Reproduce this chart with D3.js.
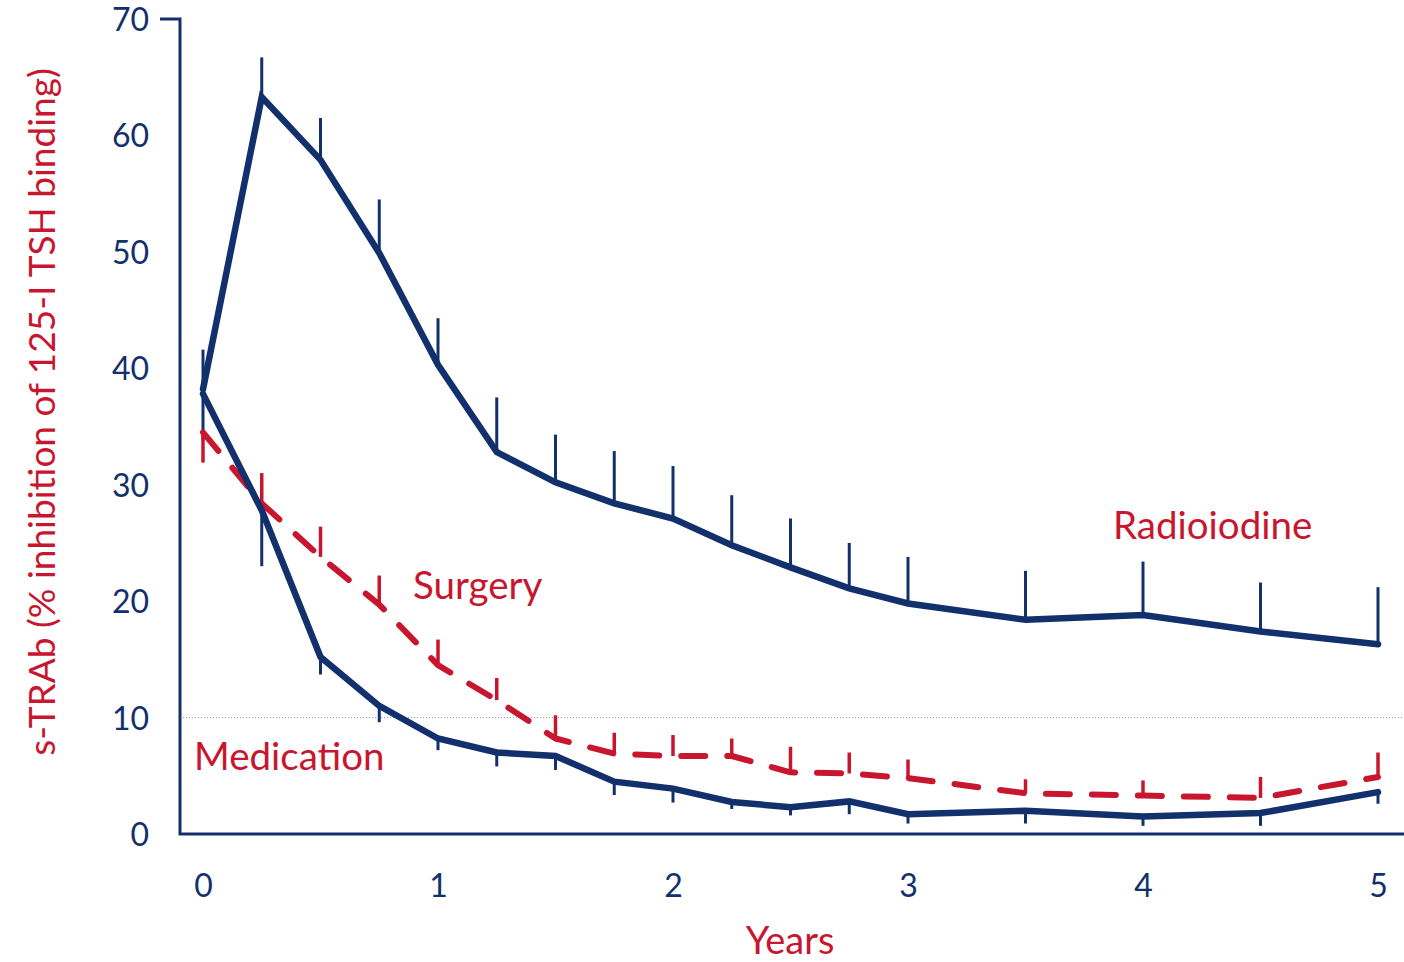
<!DOCTYPE html>
<html><head><meta charset="utf-8">
<script src="https://cdn.jsdelivr.net/npm/d3@7"></script>
<style>body{margin:0;background:#fff}svg{display:block}text{font-family:Lato,"Open Sans",sans-serif}</style>
</head><body><svg id="c" width="1404" height="962"></svg>
<script>
const years = [0,0.25,0.5,0.75,1,1.25,1.5,1.75,2,2.25,2.5,2.75,3,3.5,4,4.5,5];
const radioiodine    = [38.2,63.3,57.9,49.9,40.3,32.8,30.2,28.4,27.1,24.8,22.9,21.1,19.8,18.4,18.8,17.4,16.3];
const radioiodineErr = [41.6,66.7,61.5,54.5,44.3,37.5,34.3,32.9,31.6,29.1,27.1,25.0,23.8,22.6,23.4,21.6,21.2];
const medication     = [37.8,27.8,15.2,11.0,8.2,7.0,6.7,4.5,3.9,2.75,2.3,2.8,1.7,2.0,1.5,1.8,3.6];
const medicationErr  = [33.8,23.0,13.7,9.6,7.2,5.8,5.5,3.35,2.7,2.15,1.6,1.7,0.9,0.9,0.7,0.7,2.6];
const surgery        = [34.5,28.4,23.8,19.7,14.5,11.5,8.2,6.9,6.7,6.7,5.3,5.2,4.8,3.5,3.3,3.1,4.9];
const surgeryErr     = [31.9,31.0,26.4,22.2,16.7,13.4,10.2,8.7,8.5,8.2,7.5,7.0,6.4,4.7,4.6,4.9,7.0];
const yTicks = [0,10,20,30,40,50,60,70];
const xTicks = [0,1,2,3,4,5];
const refLine = 10;
const yTitle = "s-TRAb (% inhibition of 125-I TSH binding)";
const xTitle = "Years";
const seriesLabels = [
  {text:"Radioiodine", x:1113, y:539},
  {text:"Surgery", x:413, y:599},
  {text:"Medication", x:194, y:770}
];

const NAVY = "#12306b", RED = "#c8162f";
const svg = d3.select("#c");
const x = d3.scaleLinear().domain([0,5]).range([203,1378]);
const y = d3.scaleLinear().domain([0,70]).range([834,19]);
const axisX = 180;

// reference dotted line
svg.append("line").attr("x1",axisX).attr("x2",1404).attr("y1",y(refLine)).attr("y2",y(refLine))
  .attr("stroke","#999").attr("stroke-width",1).attr("stroke-dasharray","1,2");

// axes
const yAxis = d3.axisLeft(y).tickValues(yTicks).tickSize(0).tickFormat(d3.format("d"));
const gy = svg.append("g").attr("transform",`translate(${axisX},0)`).call(yAxis);
gy.select(".domain").remove();
gy.selectAll("text").attr("fill",NAVY).attr("font-size",32).attr("dy","0.36em").attr("x",-31);
svg.append("path").attr("d",`M160,${y(70)}H${axisX}V${y(0)}H1404`).attr("fill","none")
  .attr("stroke",NAVY).attr("stroke-width",3);

const xAxis = d3.axisBottom(x).tickValues(xTicks).tickSize(0).tickFormat(d3.format("d"));
const gx = svg.append("g").attr("transform",`translate(0,${y(0)})`).call(xAxis);
gx.select(".domain").remove();
gx.selectAll("text").attr("fill",NAVY).attr("font-size",32).attr("dy",0).attr("y",63);

// titles
svg.append("text").attr("transform",`translate(55,${412}) rotate(-90)`)
  .attr("text-anchor","middle").attr("fill",RED).attr("font-size",37).text(yTitle);
svg.append("text").attr("x",790).attr("y",954).attr("text-anchor","middle")
  .attr("fill",RED).attr("font-size",38).text(xTitle);

// error bars
function errBars(vals, errs, color, w){
  svg.append("g").selectAll("line").data(years).join("line")
    .attr("x1",d=>x(d)).attr("x2",d=>x(d))
    .attr("y1",(d,i)=>y(vals[i])).attr("y2",(d,i)=>y(errs[i]))
    .attr("stroke",color).attr("stroke-width",w);
}
errBars(radioiodine, radioiodineErr, NAVY, 3);
errBars(medication, medicationErr, NAVY, 3);
errBars(surgery, surgeryErr, RED, 3.5);

const line = vals => d3.line().x((d,i)=>x(years[i])).y((d,i)=>y(vals[i]))(vals);
svg.append("path").attr("d",line(surgery)).attr("fill","none").attr("stroke",RED)
  .attr("stroke-width",6).attr("stroke-linecap","round").attr("stroke-linejoin","round")
  .attr("stroke-dasharray","24,22");
svg.append("path").attr("d",line(medication)).attr("fill","none").attr("stroke",NAVY)
  .attr("stroke-width",6.5).attr("stroke-linecap","round").attr("stroke-linejoin","miter");
svg.append("path").attr("d",line(radioiodine)).attr("fill","none").attr("stroke",NAVY)
  .attr("stroke-width",6.5).attr("stroke-linecap","round").attr("stroke-linejoin","miter");

// series labels
svg.append("g").selectAll("text").data(seriesLabels).join("text")
  .attr("x",d=>d.x).attr("y",d=>d.y).attr("fill",RED).attr("font-size",38.5).text(d=>d.text);
</script></body></html>
